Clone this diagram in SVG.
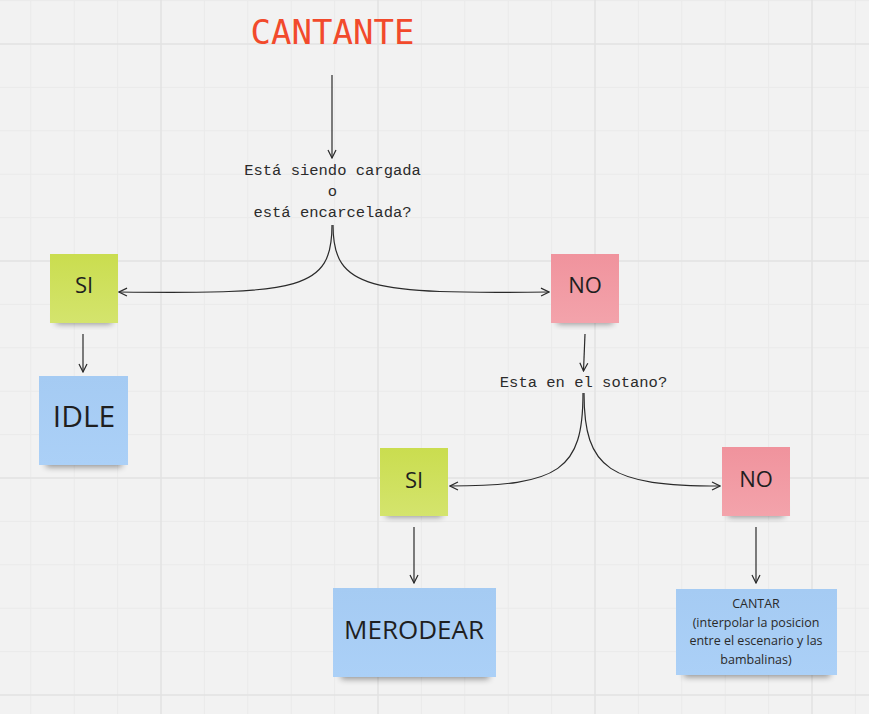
<svg xmlns="http://www.w3.org/2000/svg" width="869" height="714" viewBox="0 0 869 714">
<defs>
<style>
.minor{stroke:#eaeaea;stroke-width:1}
.major{stroke:#e2e2e2;stroke-width:1.5}
.mono{font-family:"Liberation Mono","DejaVu Sans Mono",monospace;fill:#2b2b2b}
.note{font-family:"Open Sans","Noto Sans",sans-serif;fill:#1f1f1f;text-anchor:middle}
.con{fill:none;stroke:#2a2a2a;stroke-width:1.2}
.shadow{fill:#000;opacity:0.4;filter:url(#blur)}
</style>
<filter id="blur" x="-20%" y="-50%" width="140%" height="200%"><feGaussianBlur stdDeviation="3"/></filter>
<marker id="arr" viewBox="0 0 10 10" refX="9" refY="5" markerWidth="10" markerHeight="10" markerUnits="userSpaceOnUse" orient="auto">
<path d="M1,1 L9,5 L1,9" fill="none" stroke="#2a2a2a" stroke-width="1.2"/>
</marker>
<linearGradient id="gYel" x1="0" y1="0" x2="0" y2="1"><stop offset="0" stop-color="#cadd4f"/><stop offset="1" stop-color="#d4e46d"/></linearGradient>
<linearGradient id="gPink" x1="0" y1="0" x2="0" y2="1"><stop offset="0" stop-color="#f0939d"/><stop offset="1" stop-color="#f3a3ab"/></linearGradient>
<linearGradient id="gBlue" x1="0" y1="0" x2="0" y2="1"><stop offset="0" stop-color="#a5cbf3"/><stop offset="1" stop-color="#abd0f7"/></linearGradient>
</defs>
<rect width="869" height="714" fill="#f2f2f2"/>
<g id="grid">
<path class="minor" d="M30.8,0V714M74.2,0V714M117.6,0V714M204.4,0V714M247.8,0V714M291.2,0V714M334.6,0V714M421.4,0V714M464.8,0V714M508.2,0V714M551.6,0V714M638.4,0V714M681.8,0V714M725.2,0V714M768.6,0V714M855.4,0V714"/>
<path class="minor" d="M0,0.6H869M0,87.4H869M0,130.8H869M0,174.2H869M0,217.6H869M0,304.4H869M0,347.8H869M0,391.2H869M0,434.6H869M0,521.4H869M0,564.8H869M0,608.2H869M0,651.6H869"/>
<path class="major" d="M161,0V714M378,0V714M595,0V714M812,0V714M0,44H869M0,261H869M0,478H869M0,695H869"/>
</g>
<g id="title"><text x="332.5" y="44" text-anchor="middle" style="font-family:'DejaVu Sans Mono','Liberation Mono',monospace;font-size:34px;fill:#f24a2c">CANTANTE</text></g>
<g id="q1"><text class="mono" text-anchor="middle" style="font-size:15.5px"><tspan x="332.5" y="175">Está siendo cargada</tspan><tspan x="332.5" y="196">o</tspan><tspan x="332.5" y="217">está encarcelada?</tspan></text></g>
<g id="si1">
<rect class="shadow" x="56" y="312" width="56" height="12"/>
<rect x="50" y="254" width="68" height="69" fill="url(#gYel)"/>
<text class="note" x="84" y="293" style="font-size:22px">SI</text>
</g>
<g id="no1">
<rect class="shadow" x="557" y="312" width="56" height="12"/>
<rect x="551" y="254" width="68" height="69" fill="url(#gPink)"/>
<text class="note" x="585" y="293" style="font-size:22px">NO</text>
</g>
<g id="idle">
<rect class="shadow" x="46" y="453" width="76" height="14"/>
<rect x="39" y="376" width="89" height="89" fill="url(#gBlue)"/>
<text class="note" x="84" y="427" style="font-size:30px">IDLE</text>
</g>
<g id="q2"><text class="mono" x="583.5" y="387" text-anchor="middle" style="font-size:15.5px">Esta en el sotano?</text></g>
<g id="si2">
<rect class="shadow" x="386" y="505" width="56" height="12"/>
<rect x="380" y="448" width="68" height="68" fill="url(#gYel)"/>
<text class="note" x="414" y="488" style="font-size:22px">SI</text>
</g>
<g id="no2">
<rect class="shadow" x="728" y="505" width="56" height="12"/>
<rect x="722" y="447" width="68" height="69" fill="url(#gPink)"/>
<text class="note" x="756" y="487" style="font-size:22px">NO</text>
</g>
<g id="merodear">
<rect class="shadow" x="341" y="665" width="148" height="14"/>
<rect x="333" y="588" width="163" height="89" fill="url(#gBlue)"/>
<text class="note" x="414" y="639" style="font-size:26px">MERODEAR</text>
</g>
<g id="cantar">
<rect class="shadow" x="684" y="663" width="146" height="14"/>
<rect x="676" y="589" width="161" height="86" fill="url(#gBlue)"/>
<text class="note" style="font-size:12.5px;fill:#2a2a2a"><tspan x="756" y="608">CANTAR</tspan><tspan x="756" y="626.5">(interpolar la posicion</tspan><tspan x="756" y="645">entre el escenario y las</tspan><tspan x="756" y="663.5">bambalinas)</tspan></text>
</g>
<g id="connectors">
<path class="con" d="M332,75 V158" marker-end="url(#arr)"/>
<path class="con" d="M332,225 C332,290 300,294 119,292" marker-end="url(#arr)"/>
<path class="con" d="M333,225 C333,290 370,294 549,292" marker-end="url(#arr)"/>
<path class="con" d="M83,334 V372" marker-end="url(#arr)"/>
<path class="con" d="M585,334 L583.5,371" marker-end="url(#arr)"/>
<path class="con" d="M583,393 C583,470 560,486 450,486" marker-end="url(#arr)"/>
<path class="con" d="M584,393 C584,470 610,486 720,486" marker-end="url(#arr)"/>
<path class="con" d="M414,527 V583" marker-end="url(#arr)"/>
<path class="con" d="M756,527 V583" marker-end="url(#arr)"/>
</g>
</svg>
